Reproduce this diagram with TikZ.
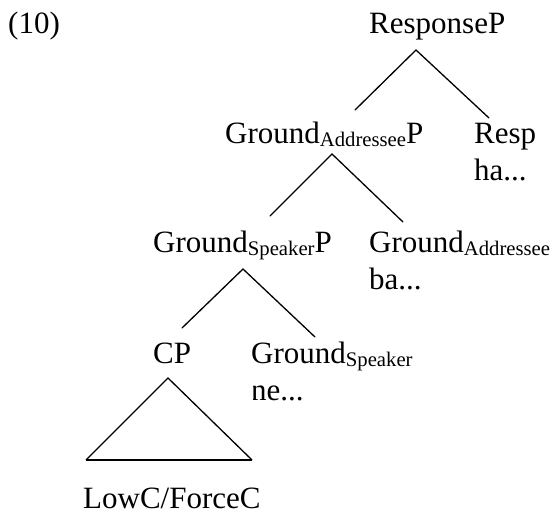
\documentclass[tikz,border=0pt]{standalone}
\usepackage{fontspec}
\setmainfont{Liberation Serif}
% lowered, smaller label for category subscripts
\newcommand\catsub[1]{\raisebox{-3pt}{\fontsize{20.7}{21}\selectfont #1}}
\begin{document}
\begin{tikzpicture}[x=1pt,y=-1pt,
  lbl/.style={anchor=base west,inner sep=0pt,font=\fontsize{31}{36}\selectfont},
  branch/.style={line width=1.3pt,line cap=round},
  roof/.style={line width=1.3pt,line join=miter}]
\useasboundingbox (0,0) rectangle (554,514);

% example number
\node[lbl] (num) at (8,33) {(10)};

% labels, row by row
\node[lbl] (resp) at (369,33) {ResponseP};

\node[lbl] (gaP) at (225,143) {Ground\catsub{Addressee}P};
\node[lbl] (respH) at (474,143) {Resp};
\node[lbl] (respHa) at (474,180) {ha...};

\node[lbl] (gsP) at (153,252) {Ground\catsub{Speaker}P};
\node[lbl] (gaH) at (369,252) {Ground\catsub{Addressee}};
\node[lbl] (gaBa) at (369,289) {ba...};

\node[lbl] (cp) at (153,363) {CP};
\node[lbl] (gsH) at (251,363) {Ground\catsub{Speaker}};
\begin{scope}
  \clip (253,375) rectangle (330,410);
  \node[lbl] (gsNe) at (251,400) {ne...};
\end{scope}

\node[lbl] (low) at (83,508) {LowC/ForceC};

% branch points
\coordinate (respTop) at (416,50);
\coordinate (respL) at (355,110);
\coordinate (respR) at (489,118);
\coordinate (gaTop) at (332,154);
\coordinate (gaL) at (270,216);
\coordinate (gaR) at (403,222);
\coordinate (gsTop) at (243,269);
\coordinate (gsL) at (182,328);
\coordinate (gsR) at (315,337);
\coordinate (cpTop) at (168,378);
\coordinate (cpL) at (86,460);
\coordinate (cpR) at (252,460);

% branches
\draw[branch] (respL) -- (respTop) -- (respR);
\draw[branch] (gaL) -- (gaTop) -- (gaR);
\draw[branch] (gsL) -- (gsTop) -- (gsR);

% triangle over the CP content
\draw[roof] (cpL) -- (cpTop) -- (cpR);
\draw[line width=1.8pt] (cpL) -- (cpR);
\end{tikzpicture}
\end{document}
